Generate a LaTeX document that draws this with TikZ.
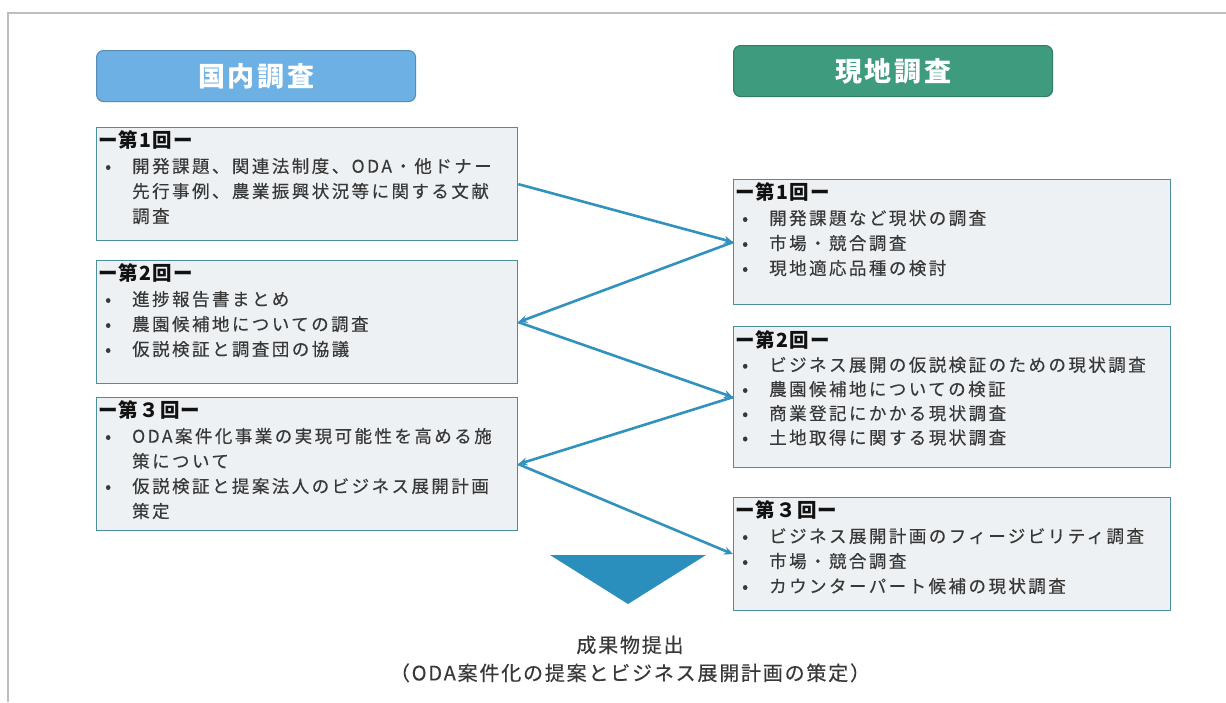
\documentclass[tikz,border=0pt]{standalone}
\usepackage{fontspec}
\setmainfont{Noto Sans CJK JP}
\usetikzlibrary{arrows.meta,calc}
\definecolor{framegray}{HTML}{BDBDBD}
\definecolor{boxfill}{HTML}{EEF1F3}
\definecolor{boxline}{HTML}{4C8E99}
\definecolor{hdblue}{HTML}{6CB0E4}
\definecolor{hdgreen}{HTML}{3E9B7E}
\definecolor{arrowblue}{HTML}{3292BE}
\definecolor{triblue}{HTML}{2B8FBD}
\definecolor{bodytext}{HTML}{383838}
\definecolor{hdtext}{HTML}{111111}
\newcommand{\bodyfnt}{\fontsize{17.5}{25}\selectfont\addfontfeature{LetterSpace=14,FakeBold=0.3}\color{bodytext}}
\newcommand{\hdfnt}{\fontsize{19.5}{25}\selectfont\bfseries\addfontfeature{LetterSpace=6,FakeBold=0}\color{hdtext}}
\newcommand{\titlefnt}{\fontsize{27}{30}\selectfont\bfseries\addfontfeature{LetterSpace=10}}
\newcommand{\resfnt}{\fontsize{20}{28}\selectfont\addfontfeature{LetterSpace=9,FakeBold=0.3}\color{bodytext}}
\newcommand{\bul}{\makebox[34pt][l]{\hspace{7pt}•}}
\newcommand{\hd}[1]{\multicolumn{2}{@{}l@{}}{\hdfnt #1}}
\begin{document}
\begin{tikzpicture}[x=1pt,y=-1pt,
  cbox/.style={draw=boxline, line width=1.3pt, fill=boxfill, inner sep=0pt, anchor=north west},
  hdrbox/.style={draw=#1!80!black, fill=#1, rounded corners=7pt, line width=1.1pt, inner sep=0pt,
    anchor=north west, minimum width=319pt, minimum height=51pt, text=white, font=\titlefnt},
  ctext/.style={inner sep=0pt, anchor=north west, align=left, font=\bodyfnt},
  flow/.style={draw=arrowblue, line width=2.6pt, -{Stealth[length=9pt,width=8pt]}},
]
\useasboundingbox (0,0) rectangle (1226,702);
\fill[white] (0,0) rectangle (1226,702);
% frame
\draw[framegray, line width=2pt] (8,702) -- (8,13) -- (1226,13);

% headers
\node[hdrbox=hdblue] (hl) at (96,50) {国内調査};
\node[hdrbox=hdgreen] (hr) at (733,45) {現地調査};

% left boxes
\node[cbox, minimum width=421pt, minimum height=113pt] (l1) at (96,127) {};
\node[cbox, minimum width=421pt, minimum height=123pt] (l2) at (96,260) {};
\node[cbox, minimum width=421pt, minimum height=133pt] (l3) at (96,397) {};
% right boxes
\node[cbox, minimum width=437pt, minimum height=125pt] (r1) at (733,179) {};
\node[cbox, minimum width=437pt, minimum height=141pt] (r2) at (733,326) {};
\node[cbox, minimum width=437pt, minimum height=113pt] (r3) at (733,497) {};

% texts
\node[ctext] (l1t) at ($(l1.north west)+(2,3)$) {%
\begin{tabular}{@{}l@{}l@{}}
\hd{ー第1回ー}\\
\bul & 開発課題、関連法制度、ODA・他ドナー\\
 & 先行事例、農業振興状況等に関する文献\\
 & 調査
\end{tabular}};
\node[ctext] (l2t) at ($(l2.north west)+(2,3)$) {%
\begin{tabular}{@{}l@{}l@{}}
\hd{ー第2回ー}\\
\bul & 進捗報告書まとめ\\
\bul & 農園候補地についての調査\\
\bul & 仮説検証と調査団の協議
\end{tabular}};
\node[ctext] (l3t) at ($(l3.north west)+(2,3)$) {%
\begin{tabular}{@{}l@{}l@{}}
\hd{ー第３回ー}\\
\bul & ODA案件化事業の実現可能性を高める施\\
 & 策について\\
\bul & 仮説検証と提案法人のビジネス展開計画\\
 & 策定
\end{tabular}};
\node[ctext] (r1t) at ($(r1.north west)+(2,3)$) {%
\begin{tabular}{@{}l@{}l@{}}
\hd{ー第1回ー}\\
\bul & 開発課題など現状の調査\\
\bul & 市場・競合調査\\
\bul & 現地適応品種の検討
\end{tabular}};
\node[ctext] (r2t) at ($(r2.north west)+(2,4)$) {%
\renewcommand{\arraystretch}{0.97}%
\begin{tabular}{@{}l@{}l@{}}
\hd{ー第2回ー}\\
\bul & ビジネス展開の仮説検証のための現状調査\\
\bul & 農園候補地についての検証\\
\bul & 商業登記にかかる現状調査\\
\bul & 土地取得に関する現状調査
\end{tabular}};
\node[ctext] (r3t) at ($(r3.north west)+(2,3)$) {%
\begin{tabular}{@{}l@{}l@{}}
\hd{ー第３回ー}\\
\bul & ビジネス展開計画のフィージビリティ調査\\
\bul & 市場・競合調査\\
\bul & カウンターパート候補の現状調査
\end{tabular}};

% connectors
\draw[flow] (l1.east) -- (r1.west);
\draw[flow] (r1.west) -- (l2.east);
\draw[flow] (l2.east) -- (r2.west);
\draw[flow] (r2.west) -- (l3.east);
\draw[flow] (l3.east) -- (r3.west);

% triangle and result
\fill[triblue] (550,555) -- (706,555) -- (628,604) -- cycle;
\node[inner sep=0pt, align=center, font=\resfnt] (res) at (630,659) {成果物提出\\（ODA案件化の提案とビジネス展開計画の策定）};
\end{tikzpicture}
\end{document}
